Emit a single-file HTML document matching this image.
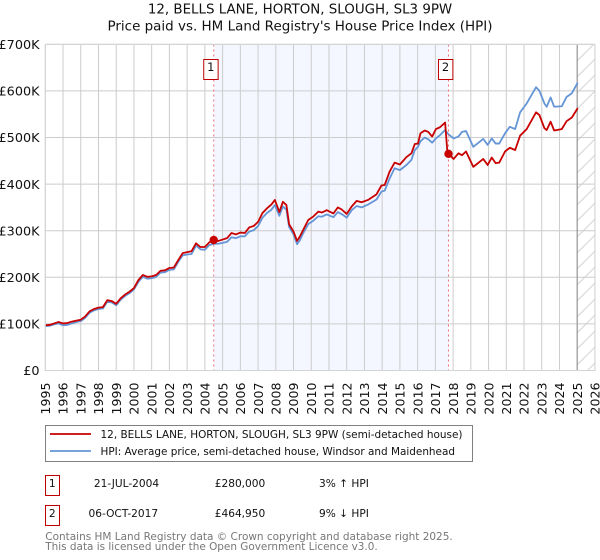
<!DOCTYPE html>
<html>
<head>
<meta charset="utf-8">
<style>
html,body{margin:0;padding:0;background:#fff;}
body{width:600px;height:560px;overflow:hidden;}
svg{display:block;font-family:"DejaVu Sans",sans-serif;}
text{fill:#111;}
</style>
</head>
<body>
<svg id="chart" width="600" height="560" viewBox="0 0 600 560" xmlns="http://www.w3.org/2000/svg">
<defs>
<pattern id="hatch" patternUnits="userSpaceOnUse" width="16" height="16" patternTransform="translate(578 44)">
<path d="M-2 18 L18 -2 M-2 2 L2 -2 M14 18 L18 14" stroke="#d4d4d4" stroke-width="1" fill="none"/>
</pattern>
</defs>
<text x="300" y="13.5" font-size="13.4" text-anchor="middle">12, BELLS LANE, HORTON, SLOUGH, SL3 9PW</text>
<text x="300" y="30.7" font-size="13.4" text-anchor="middle" textLength="385" lengthAdjust="spacingAndGlyphs">Price paid vs. HM Land Registry's House Price Index (HPI)</text>
<g id="plot"></g>
<g>
<rect x="45.5" y="425.5" width="427" height="36" fill="#fff" stroke="#808080" stroke-width="1"/>
<line x1="50" x2="91" y1="434" y2="434" stroke="#c80000" stroke-width="1.8"/>
<text x="100.5" y="438" font-size="10.7" textLength="362" lengthAdjust="spacingAndGlyphs">12, BELLS LANE, HORTON, SLOUGH, SL3 9PW (semi-detached house)</text>
<line x1="50" x2="91" y1="451" y2="451" stroke="#6495d6" stroke-width="1.8"/>
<text x="100.5" y="455" font-size="10.7" textLength="354.5" lengthAdjust="spacingAndGlyphs">HPI: Average price, semi-detached house, Windsor and Maidenhead</text>
</g>
<g>
<rect x="45.5" y="475.5" width="14" height="20" fill="#fff" stroke="#c00000" stroke-width="1"/>
<text x="52.3" y="487" font-size="10.7" text-anchor="middle">1</text>
<text x="126.5" y="487" font-size="10.6" text-anchor="middle">21-JUL-2004</text>
<text x="240" y="487" font-size="10.6" text-anchor="middle">£280,000</text>
<text x="319" y="487" font-size="10.6">3% ↑ HPI</text>
</g>
<g>
<rect x="45.5" y="505.5" width="14" height="20" fill="#fff" stroke="#c00000" stroke-width="1"/>
<text x="52.3" y="517" font-size="10.7" text-anchor="middle">2</text>
<text x="123.3" y="517" font-size="10.6" text-anchor="middle">06-OCT-2017</text>
<text x="240" y="517" font-size="10.6" text-anchor="middle">£464,950</text>
<text x="319" y="517" font-size="10.6">9% ↓ HPI</text>
</g>
<text x="45.3" y="540" font-size="10.7" style="fill:#777" textLength="407.4" lengthAdjust="spacingAndGlyphs">Contains HM Land Registry data © Crown copyright and database right 2025.</text>
<text x="45.3" y="550" font-size="10.7" style="fill:#777" textLength="332.4" lengthAdjust="spacingAndGlyphs">This data is licensed under the Open Government Licence v3.0.</text>
</svg>
<script>
const xTickYears = [1995,1996,1997,1998,1999,2000,2001,2002,2003,2004,2005,2006,2007,2008,2009,2010,2011,2012,2013,2014,2015,2016,2017,2018,2019,2020,2021,2022,2023,2024,2025,2026];
const yTickValues = [0,100,200,300,400,500,600,700];
const yTickLabels = ['£0','£100K','£200K','£300K','£400K','£500K','£600K','£700K'];
const dates = [1995,1995.25,1995.5,1995.75,1996,1996.25,1996.5,1996.75,1997,1997.25,1997.5,1997.75,1998,1998.25,1998.5,1998.75,1999,1999.25,1999.5,1999.75,2000,2000.25,2000.5,2000.75,2001,2001.25,2001.5,2001.75,2002,2002.25,2002.5,2002.75,2003,2003.25,2003.5,2003.75,2004,2004.25,2004.5,2004.75,2005,2005.25,2005.5,2005.75,2006,2006.25,2006.5,2006.75,2007,2007.25,2007.5,2007.75,2007.95,2008.2,2008.4,2008.6,2008.75,2009,2009.2,2009.35,2009.55,2009.83,2010.1,2010.4,2010.6,2010.87,2011.25,2011.5,2011.7,2012,2012.28,2012.56,2012.84,2013.2,2013.68,2013.96,2014.14,2014.42,2014.7,2015,2015.37,2015.65,2015.84,2016.02,2016.16,2016.4,2016.6,2016.82,2017.03,2017.26,2017.55,2017.67,2017.74,2018.03,2018.3,2018.5,2018.73,2019.14,2019.7,2019.95,2020.18,2020.4,2020.6,2020.93,2021.2,2021.5,2021.78,2022.15,2022.68,2022.87,2023.15,2023.28,2023.5,2023.7,2024.13,2024.4,2024.7,2025.03];
const priceSeries = [97,98,101,104,101,102,105,107,109,116,127,132,135,136,151,149,143,155,163,169,177,194,205,201,202,205,214,215,220,221,237,252,254,256,273,265,265,275,280,278,281,284,295,292,296,295,307,310,319,338,348,356,366,340,362,355,314,298,278,287,302,323,330,341,339,344,337,350,346,336,352,364,361,366,378,397,398,427,446,442,458,466,486,487,509,515,512,502,518,522,532,473,465,454,466,462,470,437,454,441,457,445,446,470,478,473,504,518,554,548,520,516,534,515,518,535,543,563];
const hpiSeries = [95,96,99,101,97,98,101,104,106,113,124,129,132,133,148,146,140,152,160,166,174,190,201,197,198,201,210,211,216,217,233,247,249,250,268,260,259,269,272,272,274,276,286,284,288,288,298,301,310,328,338,345,355,332,352,345,308,292,271,279,295,314,321,331,330,335,329,340,336,328,344,353,350,356,367,384,386,412,434,430,441,452,473,480,492,500,496,489,498,505,516,510,507,498,502,512,514,480,497,484,498,487,487,509,523,518,554,573,608,600,573,566,586,566,567,587,595,618];
const saleDates = [2004.5,2017.74];
const salePrices = [280,464.95];
const saleNumbers = ['1','2'];
const NS = 'http://www.w3.org/2000/svg';
const plot = document.getElementById('plot');
const left = 45.3, perYear = 17.73, bottom = 370.5, perK = 0.466, top_ = 44.5;
const xScale = d => left + (d - 1995) * perYear;
const yScale = v => bottom - v * perK;
const right = xScale(2026);
function add(parent, tag, attrs, text) {
  const el = document.createElementNS(NS, tag);
  for (const k in attrs) el.setAttribute(k, attrs[k]);
  if (text !== undefined) el.textContent = text;
  parent.appendChild(el);
  return el;
}
const band = add(plot, 'rect', {x: xScale(saleDates[0]), y: top_, width: xScale(saleDates[1]) - xScale(saleDates[0]), height: bottom - top_, fill: '#f4f7ff'});


const hatch = add(plot, 'rect', {x: xScale(2025), y: top_, width: right - xScale(2025), height: bottom - top_, fill: 'url(#hatch)'});


yTickValues.forEach((v, i) => {
  const g = add(plot, 'line', {x1: left, x2: right, y1: yScale(v), y2: yScale(v), stroke: '#cccccc', 'stroke-width': 1});
  
  
  const t = add(plot, 'text', {x: 39.5, y: yScale(v) + 4.7, 'font-size': 12.8, 'text-anchor': 'end'}, yTickLabels[i]);
  
  
});
xTickYears.forEach(y => {
  const g = add(plot, 'line', {x1: xScale(y), x2: xScale(y), y1: top_, y2: bottom, stroke: '#cccccc', 'stroke-width': 1});
  
  
  const t = add(plot, 'text', {x: 0, y: 0, 'font-size': 12.6, 'text-anchor': 'end', transform: 'translate(' + (xScale(y) + 4.7) + ' 382.5) rotate(-90)'}, String(y));
  
  
});
const endLine = add(plot, 'line', {x1: xScale(2025), x2: xScale(2025), y1: top_, y2: bottom, stroke: '#999999', 'stroke-width': 1.2});


function linePath(vals) {
  return vals.map((v, i) => (i ? 'L' : 'M') + xScale(dates[i]).toFixed(2) + ' ' + yScale(v).toFixed(2)).join(' ');
}
const hpiLine = add(plot, 'path', {d: linePath(hpiSeries), fill: 'none', stroke: '#6495d6', 'stroke-width': 1.8, 'stroke-linejoin': 'round'});


const priceLine = add(plot, 'path', {d: linePath(priceSeries), fill: 'none', stroke: '#c80000', 'stroke-width': 1.8, 'stroke-linejoin': 'round'});


saleDates.forEach((d, i) => {
  const cx = xScale(d);
  const v = add(plot, 'line', {x1: cx, x2: cx, y1: top_, y2: bottom, stroke: '#e8707a', 'stroke-width': 1, 'stroke-dasharray': '2 3'});
  
  
  const m = add(plot, 'circle', {cx: cx, cy: yScale(salePrices[i]), r: 4.2, fill: '#c80000'});
  
  
  const b = add(plot, 'rect', {x: cx - 10, y: 59.5, width: 14.4, height: 20, fill: '#fff', stroke: '#c00000', 'stroke-width': 1});
  
  
  const t = add(plot, 'text', {x: cx - 3, y: 71, 'font-size': 11.5, 'text-anchor': 'middle'}, saleNumbers[i]);
  
  
});
const frame = add(plot, 'rect', {x: left, y: top_, width: right - left, height: bottom - top_, fill: 'none', stroke: '#d4d4d4', 'stroke-width': 1});


</script>
</body>
</html>
